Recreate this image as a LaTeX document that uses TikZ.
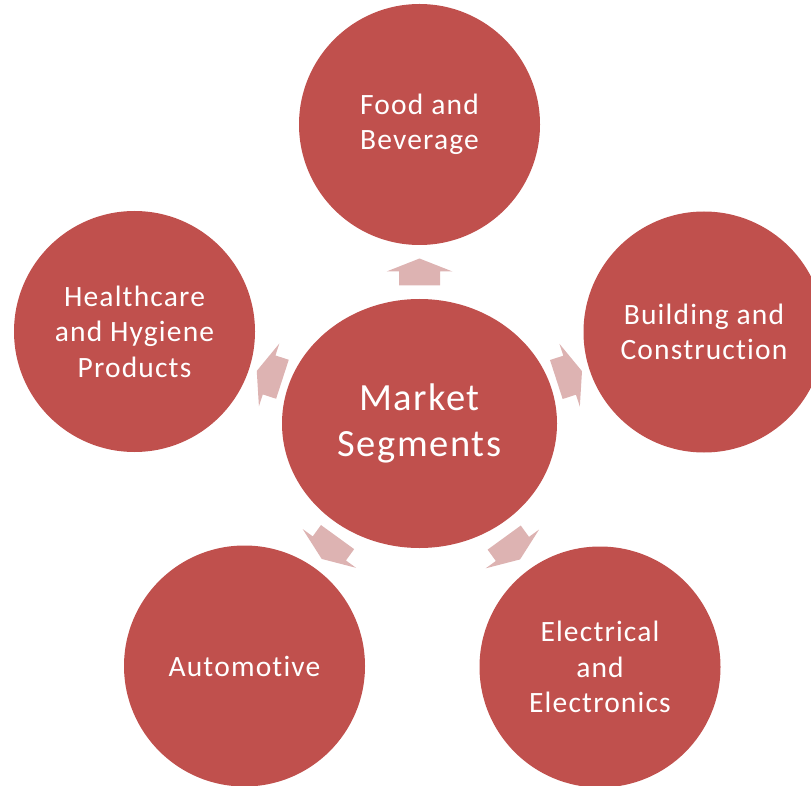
\documentclass[tikz,border=0pt]{standalone}
\usepackage{fontspec}
\setmainfont[Ligatures=NoCommon, LetterSpace=4]{Carlito}
\usetikzlibrary{shapes.geometric}
\definecolor{segred}{HTML}{C0504D}
\definecolor{arrowpink}{HTML}{DDB3B2}
\tikzset{
  segcircle/.style={circle, fill=segred, draw=none, minimum size=241pt, inner sep=0pt, text=white, align=center, font=\fontsize{29.5}{35.5}\selectfont},
  centerellipse/.style={ellipse, fill=segred, draw=none, minimum width=275pt, minimum height=249pt, inner sep=0pt, text=white, align=center, font=\fontsize{38.5}{46.5}\selectfont},
  arrowfill/.style={fill=arrowpink, draw=none}
}
\newcommand\segarrow[2]{%
  \begin{scope}[shift={(#1)}, rotate=#2]
    \fill[arrowfill] (-13.5,-20.5) -- (0.5,-20.5) -- (0.5,-33) -- (13.5,0) -- (0.5,33) -- (0.5,20.5) -- (-13.5,20.5) -- cycle;
  \end{scope}}
\begin{document}
\begin{tikzpicture}[x=1pt, y=-1pt]
\useasboundingbox (0,0) rectangle (811,786);
\node[centerellipse] (c) at (419.5,423.5) {Market\\Segments};
\node[segcircle] (food) at (419.5,124.5) {Food and\\Beverage};
\node[segcircle] (build) at (704,332) {Building and\\Construction};
\node[segcircle] (elec) at (600,667) {Electrical\\and\\Electronics};
\node[segcircle] (auto) at (244.5,666) {Automotive};
\node[segcircle] (health) at (134.5,331.5) {Healthcare\\and Hygiene\\Products};
\path (c.90) -- (food.270) coordinate[pos=0.5] (m1);
\path (c.18) -- (build.198) coordinate[pos=0.5] (m2);
\path (c.-54) -- (elec.126) coordinate[pos=0.5] (m3);
\path (c.-126) -- (auto.54) coordinate[pos=0.5] (m4);
\path (c.162) -- (health.-18) coordinate[pos=0.5] (m5);
\segarrow{m1}{90}
\segarrow{m2}{18}
\segarrow{m3}{-54}
\segarrow{m4}{-126}
\segarrow{m5}{162}
\end{tikzpicture}
\end{document}
